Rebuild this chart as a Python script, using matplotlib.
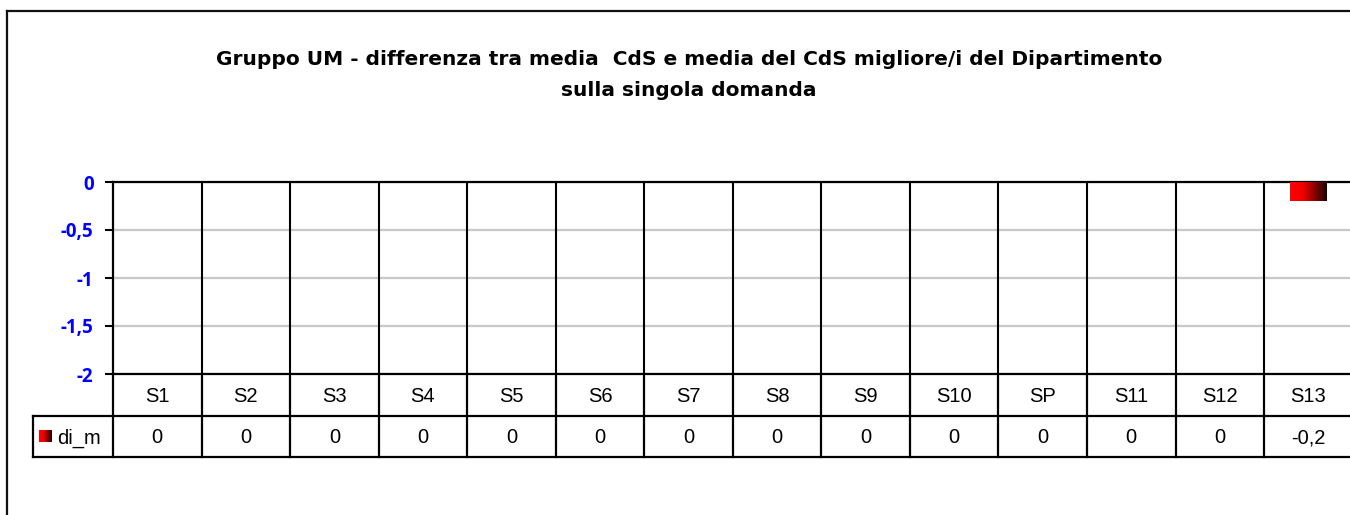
import numpy as np
import matplotlib.pyplot as plt
from matplotlib.colors import LinearSegmentedColormap
from matplotlib.lines import Line2D

# chart data
categories = ['S1', 'S2', 'S3', 'S4', 'S5', 'S6', 'S7', 'S8', 'S9', 'S10', 'SP', 'S11', 'S12', 'S13']
di_m = [0, 0, 0, 0, 0, 0, 0, 0, 0, 0, 0, 0, 0, -0.2]
series_name = 'di_m'
y_ticks = [0, -0.5, -1, -1.5, -2]
y_tick_labels = ['0', '-0,5', '-1', '-1,5', '-2']
title_lines = ['Gruppo UM - differenza tra media  CdS e media del CdS migliore/i del Dipartimento',
               'sulla singola domanda']

W, H = 1350, 515
fig = plt.figure(figsize=(W / 100, H / 100), dpi=100)
fig.patch.set_facecolor('white')


def fx(px):
    return px / W


def fy(py):
    return 1 - py / H


def fmt(v):
    return ('%g' % v).replace('.', ',')


red_grad = LinearSegmentedColormap.from_list(
    'red_grad', [(0, '#ff0000'), (0.35, '#f00000'), (1, '#1c0000')])
grad = np.linspace(0, 1, 256).reshape(1, -1)

# outer chart frame (only top / left visible)
fig.add_artist(Line2D([fx(6.5), fx(6.5)], [0, fy(11)], transform=fig.transFigure, color='#111111', lw=1.6))
fig.add_artist(Line2D([fx(6.5), 1], [fy(11), fy(11)], transform=fig.transFigure, color='#111111', lw=1.6))

for line, base in zip(title_lines, [65, 96]):
    fig.text(fx(689), fy(base), line, ha='center', va='baseline', fontsize=14.5,
             fontweight='bold', family='DejaVu Sans')

# plot area
n = len(categories)
ax_l, ax_r, ax_t, ax_b = 113, 1352.6, 182, 374
unit = (ax_r - ax_l) / n
ax = fig.add_axes([fx(ax_l), fy(ax_b), (ax_r - ax_l) / W, (ax_b - ax_t) / H])
x = np.arange(n)
bars = ax.bar(x, di_m, width=0.41, color='none', edgecolor='none', zorder=3)
for b in bars:
    if b.get_height() == 0:
        continue
    x0, y0 = b.get_x(), b.get_y()
    x1, y1 = x0 + b.get_width(), y0 + b.get_height()
    im = ax.imshow(grad, cmap=red_grad, aspect='auto', zorder=3,
                   extent=[x0, x1, min(y0, y1), max(y0, y1)])
    im.set_clip_path(b)

ax.set_xlim(-0.5, n - 0.5)
ax.set_ylim(-2, 0)
ax.set_yticks(y_ticks)
ax.set_yticklabels(y_tick_labels, color='#0000ff', fontweight='bold', fontsize=13.5, family='Open Sans')
ax.tick_params(axis='y', length=6, width=1.5, pad=8, direction='out')
ax.set_xticks([])
ax.yaxis.grid(True, color='#c8c8c8', lw=1.6)
ax.set_axisbelow(True)
for i in range(n - 1):
    ax.axvline(i + 0.5, color='black', lw=1.5, zorder=2)
for s in ['left', 'top', 'bottom']:
    ax.spines[s].set_linewidth(1.6)
    ax.spines[s].set_color('black')
ax.spines['right'].set_visible(False)

# data table below
tab_l, tab_b = 33, 457
xmin = -0.5 - (ax_l - tab_l) / unit
tab = fig.add_axes([fx(tab_l), fy(tab_b), (ax_r - tab_l) / W, (tab_b - ax_b) / H])
tab.set_xlim(xmin, n - 0.5)
tab.set_ylim(2, 0)
tab.axis('off')
lk = dict(color='black', lw=1.6, clip_on=False)
tab.plot([xmin, n - 0.5], [1, 1], **lk)
tab.plot([xmin, n - 0.5], [2, 2], **lk)
tab.plot([xmin, xmin], [1, 2], **lk)
for i in range(n):
    tab.plot([i - 0.5, i - 0.5], [0, 2], **lk)
for i, (c, v) in enumerate(zip(categories, di_m)):
    tab.text(i, 0.54, c, ha='center', va='center', fontsize=14.5, family='Liberation Sans')
    tab.text(i, 1.54, fmt(v), ha='center', va='center', fontsize=14.5, family='Liberation Sans')

px_u = (tab_b - ax_b) / 2
kx0 = xmin + (39 - tab_l) / unit
kx1 = xmin + (51 - tab_l) / unit
tab.imshow(grad, cmap=red_grad, aspect='auto', extent=[kx0, kx1, 1.5 + 6 / px_u, 1.5 - 6 / px_u],
           clip_on=False)
tab.set_xlim(xmin, n - 0.5)
tab.set_ylim(2, 0)
tab.text(xmin + (57 - tab_l) / unit, 1.54, series_name, ha='left', va='center', fontsize=14.5,
         family='Liberation Sans')

fig.savefig('out.png', dpi=100)
